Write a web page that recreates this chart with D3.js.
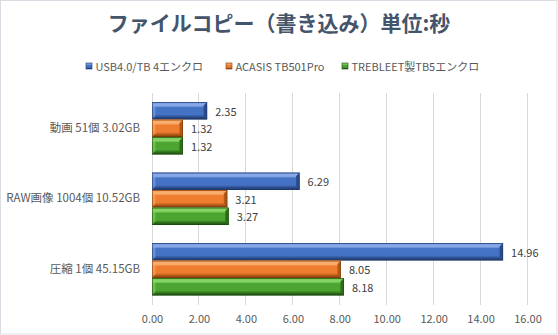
<!DOCTYPE html>
<html>
<head>
<meta charset="utf-8">
<script src="https://cdn.jsdelivr.net/npm/d3@7"></script>
<style>
  html, body { margin: 0; padding: 0; background: #fff; }
  svg { display: block; }
  text { font-family: "Noto Sans CJK JP", "Noto Sans", sans-serif; }
</style>
</head>
<body>
<svg id="chart" width="558" height="335"></svg>
<script>
// Write times in seconds for three enclosures, per test set
const categories = ["動画 51個 3.02GB", "RAW画像 1004個 10.52GB", "圧縮 1個 45.15GB"];
const seriesNames = ["USB4.0/TB 4エンクロ", "ACASIS TB501Pro", "TREBLEET製TB5エンクロ"];
const usb4Values = [2.35, 6.29, 14.96];
const acasisValues = [1.32, 3.21, 8.05];
const trebleetValues = [1.32, 3.27, 8.18];
const xTicks = [0, 2, 4, 6, 8, 10, 12, 14, 16];
const titleText = "ファイルコピー（書き込み）単位:秒";

const seriesValues = [usb4Values, acasisValues, trebleetValues];
const palette = [
  { base: "#4472C4", light: "#86A8E8", dark: "#2B4C8C", edge: "#1E3766" },
  { base: "#EE7D2F", light: "#F9AE70", dark: "#B25816", edge: "#7A3B0C" },
  { base: "#4DA531", light: "#86D564", dark: "#2E6E1A", edge: "#1D4A10" }
];

const svg = d3.select("#chart");
const W = 558, H = 335;

// outer frame
svg.append("rect")
  .attr("x", 0.5).attr("y", 0.5)
  .attr("width", W - 1.5).attr("height", H - 1.5)
  .attr("fill", "#fff").attr("stroke", "#D9DDE3").attr("stroke-width", 1);

// bevel gradients
const defs = svg.append("defs");
palette.forEach((c, i) => {
  const g = defs.append("linearGradient")
    .attr("id", "bev" + i).attr("x1", 0).attr("y1", 0).attr("x2", 0).attr("y2", 1);
  [[0, c.base], [0.1, c.light], [0.22, c.light], [0.32, c.base],
   [0.72, c.base], [0.86, c.dark], [1, c.edge]]
    .forEach(([o, col]) => g.append("stop").attr("offset", o).attr("stop-color", col));
});

const x = d3.scaleLinear().domain([0, 16]).range([152, 527.5]);
const y = d3.scaleBand().domain(categories).range([93, 304.5])
  .paddingInner(0.255).paddingOuter(0.1275);
const ySub = d3.scaleBand().domain(seriesNames).range([0, y.bandwidth()]);

// title
svg.append("text")
  .attr("x", 279).attr("y", 31)
  .attr("text-anchor", "middle")
  .attr("font-size", 21).attr("font-weight", "bold")
  .attr("fill", "#44546A")
  .text(titleText);

// legend
const legendX = [86, 226, 342];
const legend = svg.append("g");
seriesNames.forEach((name, i) => {
  const g = legend.append("g").attr("transform", `translate(${legendX[i]},66)`);
  g.append("rect").attr("x", 0).attr("y", -3).attr("width", 6).attr("height", 6)
    .attr("fill", `url(#bev${i})`).attr("stroke", palette[i].edge).attr("stroke-width", 0.6);
  g.append("text").attr("x", 9.5).attr("y", 0)
    .attr("dominant-baseline", "central")
    .attr("font-size", 11).attr("fill", "#595959")
    .text(name);
});

// gridlines
svg.append("g").selectAll("line").data(xTicks).join("line")
  .attr("x1", d => x(d)).attr("x2", d => x(d))
  .attr("y1", 93).attr("y2", 304.5)
  .attr("stroke", "#D9D9D9").attr("stroke-width", 1)
  .attr("shape-rendering", "crispEdges");

// x axis labels
const xAxis = d3.axisBottom(x).tickValues(xTicks).tickFormat(d3.format(".2f")).tickSize(0).tickPadding(10);
const xg = svg.append("g").attr("transform", "translate(0,305)").call(xAxis);
xg.select(".domain").remove();
xg.selectAll("text").attr("font-size", 11).attr("fill", "#595959")
  .attr("font-family", "\"Noto Sans CJK JP\", sans-serif");

// y axis labels
const yAxis = d3.axisLeft(y).tickSize(0).tickPadding(12);
const yg = svg.append("g").attr("transform", `translate(${x(0)},0)`).call(yAxis);
yg.select(".domain").remove();
yg.selectAll("text").attr("font-size", 11.5).attr("fill", "#595959")
  .attr("font-family", "\"Noto Sans CJK JP\", sans-serif");

// bars
const rows = [];
categories.forEach((cat, ci) => {
  seriesNames.forEach((s, si) => rows.push({ cat, s, si, v: seriesValues[si][ci] }));
});

const barG = svg.append("g");
const bars = barG.selectAll("g.bar").data(rows).join("g").attr("class", "bar");
bars.each(function(d) {
  const g = d3.select(this);
  const x0 = x(0), x1 = x(d.v);
  const y0 = y(d.cat) + ySub(d.s), h = ySub.bandwidth();
  const c = palette[d.si];
  const b = 3.5;
  g.append("rect").attr("x", x0).attr("y", y0).attr("width", x1 - x0).attr("height", h)
    .attr("fill", `url(#bev${d.si})`);
  // right end bevel
  g.append("path")
    .attr("d", `M${x1 - b},${y0 + b} L${x1},${y0} L${x1},${y0 + h} L${x1 - b},${y0 + h - b} Z`)
    .attr("fill", c.dark);
  // left end highlight
  g.append("path")
    .attr("d", `M${x0},${y0} L${x0 + b},${y0 + b} L${x0 + b},${y0 + h - b} L${x0},${y0 + h} Z`)
    .attr("fill", c.light).attr("opacity", 0.55);
  g.append("rect").attr("x", x0 + 0.5).attr("y", y0 + 0.5)
    .attr("width", x1 - x0 - 1).attr("height", h - 1)
    .attr("fill", "none").attr("stroke", c.edge).attr("stroke-width", 0.8).attr("opacity", 0.7);
});

// value labels
barG.selectAll("text.val").data(rows).join("text").attr("class", "val")
  .attr("x", d => x(d.v) + 8)
  .attr("y", d => y(d.cat) + ySub(d.s) + ySub.bandwidth() / 2)
  .attr("dominant-baseline", "central")
  .attr("font-size", 11).attr("fill", "#404040")
  .text(d => d.v.toFixed(2));
</script>
</body>
</html>
